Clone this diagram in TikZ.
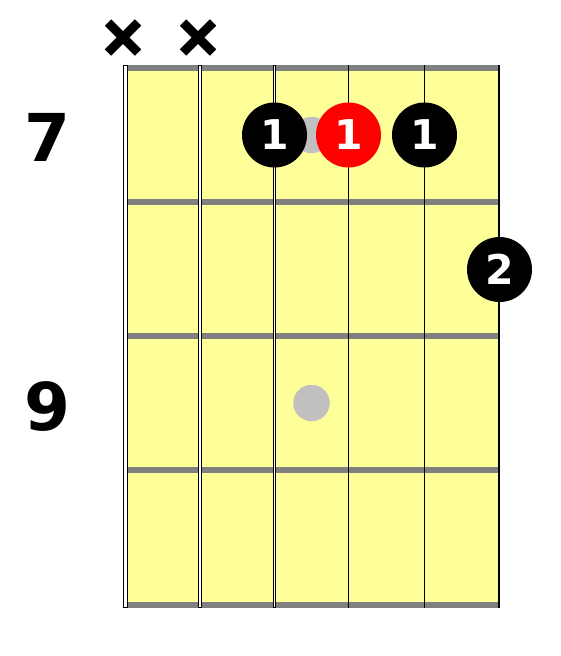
\documentclass[tikz,border=0pt]{standalone}
\usepackage{fontspec}
\setmainfont{DejaVu Sans}
\definecolor{fbyellow}{HTML}{FFFF99}
\definecolor{fretgray}{HTML}{808080}
\definecolor{markgray}{HTML}{C0C0C0}
\definecolor{rootred}{HTML}{FF0000}
\begin{document}
\begin{tikzpicture}[x=1pt,y=-1pt,
  fretbar/.style={draw=fretgray,line width=6pt},
  thickstring/.style={fill=white,draw=black,line width=1pt},
  thinstring/.style={draw=black,line width=1.2pt},
  inlay/.style={circle,fill=markgray,minimum size=36.5pt,inner sep=0pt},
  finger/.style={circle,fill=black,minimum size=65pt,inner sep=0pt,text=white,
    font=\bfseries\fontsize{41}{41}\selectfont},
  rootfinger/.style={finger,fill=rootred},
  fretnum/.style={anchor=base,font=\bfseries\fontsize{66}{66}\selectfont},
  mute/.style={line width=9pt}]
\useasboundingbox (0,0) rectangle (561,656);
% fretboard
\fill[fbyellow] (125,65) rectangle (499,608);
\foreach \y in {68,202,336,470,605} \draw[fretbar] (125,\y) -- (499.5,\y);
% strings
\filldraw[thickstring] (123.8,65.5) rectangle (127.2,607.5);
\filldraw[thickstring] (198.6,65.5) rectangle (201.4,607.5);
\filldraw[thickstring] (273.5,65.5) rectangle (275.5,607.5);
\foreach \x in {348.5,424.5,499} \draw[thinstring] (\x,65) -- (\x,608);
% inlays
\node[inlay] (in7) at (311.5,135) {};
\node[inlay] (in9) at (311.5,403) {};
% fret numbers
\node[fretnum] (n7) at (47,161) {7};
\node[fretnum] (n9) at (47,430) {9};
% muted strings
\coordinate (m1) at (123,37.5);
\coordinate (m2) at (198,37.5);
\foreach \m in {m1,m2} {
  \draw[mute] ([shift={(-15,-15)}]\m) -- ([shift={(15,15)}]\m);
  \draw[mute] ([shift={(-15,15)}]\m) -- ([shift={(15,-15)}]\m);
}
% fingers
\node[finger] (d1) at (274.5,135) {\raisebox{-3pt}{1}};
\node[rootfinger] (d2) at (348.5,135) {\raisebox{-3pt}{1}};
\node[finger] (d3) at (424.5,135) {\raisebox{-3pt}{1}};
\node[finger] (d4) at (499.5,269.5) {\raisebox{-3pt}{2}};
\end{tikzpicture}
\end{document}
